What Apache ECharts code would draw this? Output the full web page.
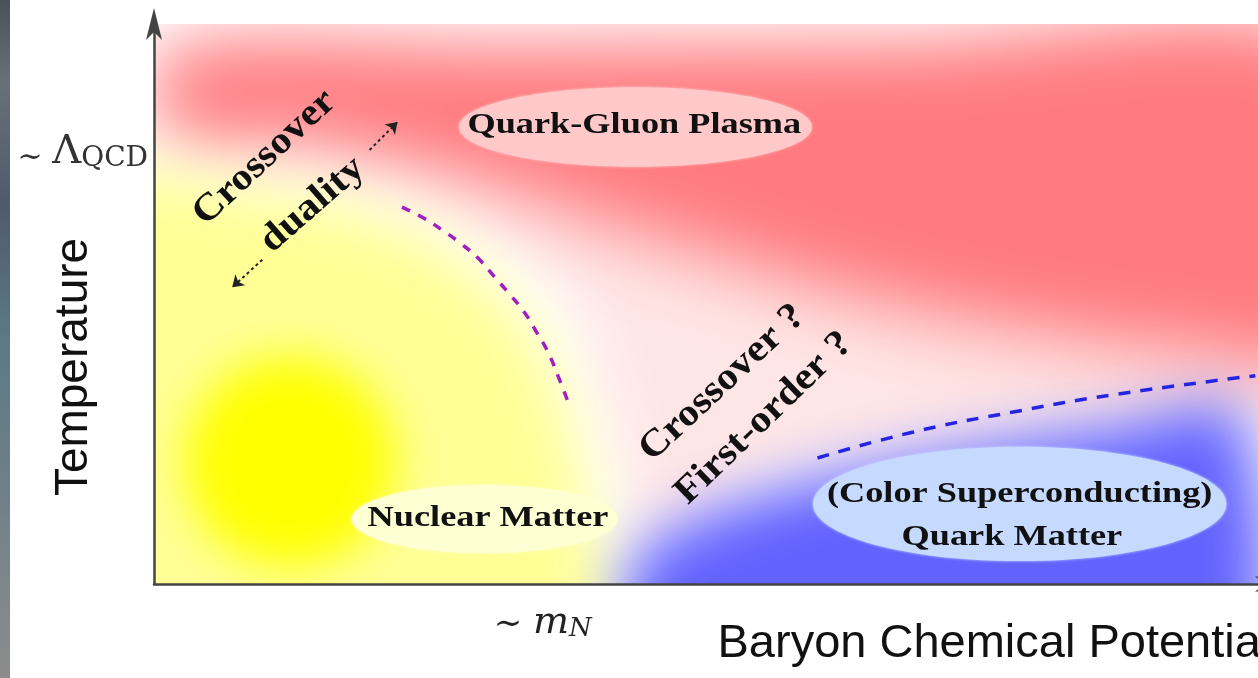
<!DOCTYPE html>
<html>
<head>
<meta charset="utf-8">
<script src="https://cdn.jsdelivr.net/npm/echarts@6/dist/echarts.min.js"></script>
<style>
html,body{margin:0;padding:0;background:#fff;}
#c{width:1258px;height:678px;}
</style>
</head>
<body>
<div id="c"></div>
<script>
// ---- axis ticks (arbitrary units 0..100 on both axes) ----
const yTicks = [77];            // ~ Lambda_QCD
const xTicks = [34.8];          // ~ m_N
const yTickLabels = ['{t|∼ }{L|Λ}{s|QCD}'];
const xTickLabels = ['{t|∼ }{m|m}{n|N}'];
const yTitle = 'Temperature';
const xTitle = 'Baryon Chemical Potential';

// ---- phase regions (outline points, data units) ----
const qgpRegion = [[1.0,95.7],[31.0,96.4],[66.8,96.8],[104.4,96.8],[104.4,39.6],[93.6,40.9],[84.7,42.7],[75.7,45.4],[66.8,48.9],[57.8,53.4],[48.9,58.8],[39.9,64.1],[31.0,70.0],[22.0,74.8],[13.1,78.4],[1.0,80.2]];
const crossoverBand = [[25.5,72.0],[48.9,62.3],[75.7,47.1],[102.6,40.0],[102.6,31.1],[75.7,25.7],[57.8,20.4],[48.5,12.0],[44.5,6.0],[41.0,29.3],[37.5,50.7],[31.5,63.2]];
const hadronRegion = [[-4.8,72.1],[8.6,70.7],[17.5,67.7],[24.7,61.8],[31.0,52.5],[35.0,41.8],[37.4,29.3],[38.9,15.0],[39.5,-11.8],[-4.8,-11.8]];
const nuclearCore = [[12.2,21.8]];
const nuclearCoreRadius = [[9.4,18.75]];
const cscRegion = [[43.5,-13.6],[42.4,2.1],[46.2,9.6],[54.3,15.9],[65.0,21.3],[75.7,25.2],[86.5,28.4],[97.0,31.1],[97.0,-13.6]];

// ---- boundary lines ----
const chiralLine = [[22.2,67.3],[24.1,65.4],[25.8,63.2],[27.4,60.9],[29.0,58.2],[30.5,54.8],[31.9,51.6],[33.2,48.4],[34.3,44.8],[35.3,41.3],[36.2,37.0],[37.0,32.9]];
const cscLine = [[59.4,22.5],[67.9,27.1],[76.9,30.7],[85.9,33.8],[98.6,37.2]];

// ---- phase bubbles ----
const bubbleCenters = [[43.1,81.6],[29.6,11.6],[77.5,14.3]];
const bubbleRadii = [[15.8,7.1],[11.9,6.1],[18.5,10.2]];

// ---- annotations ----
const noteTexts = ['Quark-Gluon Plasma','Nuclear Matter','(Color Superconducting)','Quark Matter','Crossover','duality','Crossover ?','First-order ?'];
const noteX = [43.0, 29.9, 77.5, 76.8, 9.9, 14.2, 50.9, 54.6];
const noteY = [82.0, 11.8, 16.1, 8.3, 76.1, 67.7, 35.9, 29.6];
const noteAngle = [0, 0, 0, 0, 43, 41, 43, 44];
const dualityArrows = [[[9.7,57.9],[7.0,53.0]], [[19.3,77.5],[21.8,82.5]]];

// ---- styles ----
const bubbleColors = ['#ffc9c9', '#ffffd4', '#c6d9ff'];
const OFF = 4000;

function blob(points, color, blur, z) {
  return {
    type: 'custom', coordinateSystem: 'cartesian2d', clip: true, silent: true, z: z,
    data: [points[0]],
    renderItem: function (params, api) {
      const pts = points.map(function (p) { const c = api.coord(p); return [c[0] - OFF, c[1]]; });
      return { type: 'polygon', shape: { points: pts, smooth: 0.3 },
        style: { fill: color, shadowBlur: blur, shadowColor: color, shadowOffsetX: OFF } };
    }
  };
}

const chart = echarts.init(document.getElementById('c'), null, { renderer: 'canvas', width: 1258, height: 678 });

function nearestLabel(vals, labels, v) {
  let bi = -1, bd = 1e9;
  vals.forEach(function (t, i) { const d = Math.abs(t - v); if (d < bd) { bd = d; bi = i; } });
  return bd < 0.5 ? labels[bi] : '';
}

chart.setOption({
  backgroundColor: '#ffffff',
  animation: false,
  grid: { left: 154, right: -13, top: 24, bottom: 94, containLabel: false, outerBoundsMode: 'none' },
  graphic: [{
    type: 'rect', left: 0, top: 0, z: 100,
    shape: { width: 10, height: 678 },
    style: { fill: new echarts.graphic.LinearGradient(0, 0, 0, 1, [
      { offset: 0, color: '#4b5158' }, { offset: 0.12, color: '#6a7078' }, { offset: 0.3, color: '#4f5a6c' },
      { offset: 0.5, color: '#5a7a84' }, { offset: 0.7, color: '#6d7f88' }, { offset: 1, color: '#8c8c8c' }]) }
  }],
  xAxis: {
    type: 'value', min: 0, max: 100, z: 10,
    splitLine: { show: false }, axisTick: { show: false },
    axisLine: { show: true, onZero: false, symbol: ['none', 'arrow'], symbolSize: [12, 32], symbolOffset: [0, 16], lineStyle: { color: '#444', width: 2.5 } },
    axisLabel: {
      customValues: xTicks, margin: 18, color: '#222',
      formatter: function (v) { return nearestLabel(xTicks, xTickLabels, v); },
      rich: {
        t: { fontFamily: 'DejaVu Serif', fontSize: 34, lineHeight: 40, verticalAlign: 'bottom', color: '#222' },
        m: { fontFamily: 'DejaVu Serif', fontStyle: 'italic', fontSize: 38, lineHeight: 40, verticalAlign: 'bottom', color: '#222' },
        n: { fontFamily: 'DejaVu Serif', fontStyle: 'italic', fontSize: 26, lineHeight: 24, verticalAlign: 'bottom', color: '#222' }
      }
    },
    name: xTitle, nameLocation: 'middle', nameGap: 37, nameMoveOverlap: false,
    nameTextStyle: { fontFamily: 'Liberation Sans', fontSize: 47, lineHeight: 47, color: '#111', align: 'left', padding: [0, 0, 0, 5] }
  },
  yAxis: {
    type: 'value', min: 0, max: 100, z: 10,
    splitLine: { show: false }, axisTick: { show: false },
    axisLine: { show: true, onZero: false, symbol: ['none', 'arrow'], symbolSize: [12, 32], symbolOffset: [0, 16], lineStyle: { color: '#444', width: 2.5 } },
    axisLabel: {
      customValues: yTicks, margin: 6, color: '#333',
      formatter: function (v) { return nearestLabel(yTicks, yTickLabels, v); },
      rich: {
        t: { fontFamily: 'DejaVu Serif', fontSize: 30, lineHeight: 40, verticalAlign: 'bottom', color: '#333' },
        L: { fontFamily: 'DejaVu Serif', fontSize: 40, lineHeight: 40, verticalAlign: 'bottom', color: '#333' },
        s: { fontFamily: 'DejaVu Serif', fontSize: 28, lineHeight: 20, verticalAlign: 'bottom', color: '#333' }
      }
    },
    name: yTitle, nameLocation: 'middle', nameRotate: 90, nameGap: 57, nameMoveOverlap: false,
    nameTextStyle: { fontFamily: 'Liberation Sans', fontSize: 46, lineHeight: 46, color: '#111', padding: [0, 126, 0, 0] }
  },
  series: [
    blob(crossoverBand, '#ffe6e6', 60, 1),
    blob(qgpRegion, '#ff7b7f', 70, 1),
    blob(hadronRegion, '#ffff96', 60, 1),
    {
      type: 'custom', coordinateSystem: 'cartesian2d', clip: true, silent: true, z: 1,
      data: nuclearCore,
      renderItem: function (params, api) {
        const c = api.coord(nuclearCore[params.dataIndex]);
        const s = api.size(nuclearCoreRadius[params.dataIndex]);
        return { type: 'ellipse', shape: { cx: c[0] - OFF, cy: c[1], rx: s[0], ry: s[1] },
          style: { fill: '#ffff00', shadowBlur: 45, shadowColor: '#ffff00', shadowOffsetX: OFF } };
      }
    },
    blob(cscRegion, '#6262ff', 60, 1),
    {
      type: 'custom', coordinateSystem: 'cartesian2d', clip: true, silent: true, z: 3,
      data: bubbleCenters,
      renderItem: function (params, api) {
        const i = params.dataIndex;
        const c = api.coord(bubbleCenters[i]);
        const s = api.size(bubbleRadii[i]);
        return { type: 'ellipse', shape: { cx: c[0], cy: c[1], rx: s[0], ry: s[1] },
          style: { fill: bubbleColors[i], shadowBlur: 3, shadowColor: bubbleColors[i] } };
      }
    },
    {
      type: 'line', data: chiralLine, smooth: true, showSymbol: false, symbol: 'none', z: 4, silent: true,
      lineStyle: { color: '#a41cc4', width: 3.5, type: [9, 9] }
    },
    {
      type: 'line', data: cscLine, smooth: true, showSymbol: false, symbol: 'none', z: 4, silent: true,
      lineStyle: { color: '#2424e2', width: 3.5, type: [12, 10] }
    },
    {
      type: 'lines', coordinateSystem: 'cartesian2d', z: 5, silent: true,
      symbol: ['none', 'arrow'], symbolSize: 11,
      lineStyle: { color: '#222', width: 2, type: [3, 3], opacity: 1 },
      data: dualityArrows.map(function (a) { return { coords: a }; })
    },
    {
      type: 'custom', coordinateSystem: 'cartesian2d', clip: false, silent: true, z: 6,
      data: noteX.map(function (x, i) { return [x, noteY[i]]; }),
      renderItem: function (params, api) {
        const i = params.dataIndex;
        const c = api.coord([noteX[i], noteY[i]]);
        const rotated = noteAngle[i] !== 0;
        return { type: 'text', x: c[0], y: c[1], rotation: noteAngle[i] * Math.PI / 180,
          scaleX: rotated ? 1.1 : 1.21,
          style: { text: noteTexts[i], fill: '#111', fontFamily: 'Liberation Serif', fontWeight: 'bold',
            fontSize: rotated ? 38 : 30, align: 'center', verticalAlign: 'middle' } };
      }
    }
  ]
});
</script>
</body>
</html>
